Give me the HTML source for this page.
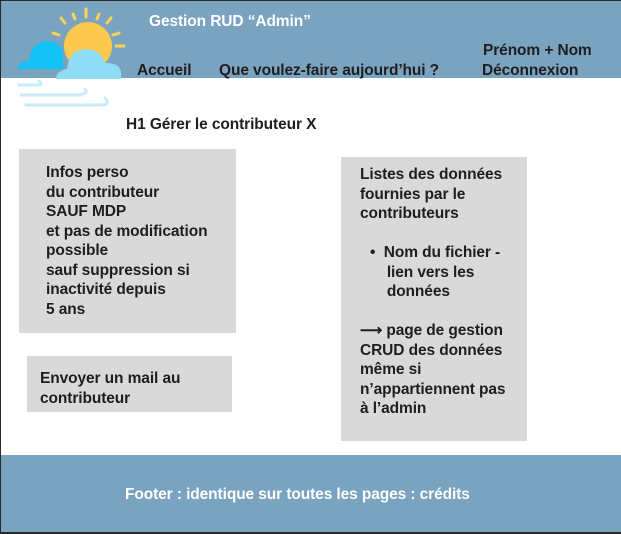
<!DOCTYPE html>
<html><head><style>
body{margin:0;width:621px;height:534px;overflow:hidden;background:#2a2a2a;font-family:"Liberation Sans",sans-serif;}
#f{position:absolute;left:1px;top:1px;width:620px;height:531px;background:#fff;}
.h{position:absolute;left:0;top:0;width:620px;height:77px;background:#7aa3c0;}
.ft{position:absolute;left:0;top:454px;width:620px;height:77px;background:#7aa3c0;}
.t{position:absolute;font-size:15.5px;font-weight:bold;color:#1e1e1e;line-height:19.5px;white-space:nowrap;letter-spacing:-0.1px;}
.w{color:#fff;}
.b{position:absolute;background:#d9d9d9;}
</style></head><body><div id="f">
<div class="h"></div>
<div class="ft"></div>
<svg style="position:absolute;left:0;top:0" width="130" height="110">
<g stroke="#fcd15a" stroke-width="3" stroke-linecap="round">
<line x1="85" y1="8" x2="85" y2="16"/><line x1="60" y1="17" x2="64" y2="22"/><line x1="110" y1="17" x2="106" y2="22"/>
<line x1="52" y1="32" x2="58" y2="34"/><line x1="118" y1="32" x2="112" y2="34"/><line x1="48" y1="45" x2="56" y2="45"/><line x1="115" y1="45" x2="123" y2="45"/>
<line x1="72" y1="13" x2="74" y2="18"/><line x1="98" y1="13" x2="96" y2="18"/></g>
<circle cx="87" cy="45" r="24" fill="#fcc94f"/>
<path d="M17 68 Q17 60 28 60 Q30 40 48 40 Q60 42 62 52 L62 68 Z" fill="#13c2f5"/>
<path d="M55 78 Q55 70 66 68 Q68 48 86 48 Q100 49 104 62 Q120 62 120 72 L120 78 Z" fill="#8fdcf5"/>
<g stroke="#c9ecf9" stroke-width="3" fill="none" stroke-linecap="round">
<path d="M18 84 H38 Q42 84 38 80"/><path d="M20 94 H70 Q90 94 84 88"/><path d="M25 104 H100 Q110 104 104 97"/><path d="M60 94 H80"/></g>
</svg>
<div class="t w" style="left:148px;top:11px;">Gestion RUD “Admin”</div>
<div class="t" style="left:136px;top:60px;">Accueil</div>
<div class="t" style="left:218px;top:60px;">Que voulez-faire aujourd’hui ?</div>
<div class="t" style="left:482px;top:40px;">Prénom + Nom</div>
<div class="t" style="left:481px;top:60px;">Déconnexion</div>
<div class="t" style="left:125px;top:114px;">H1 Gérer le contributeur X</div>
<div class="b" style="left:18px;top:148px;width:217px;height:184px;"></div>
<div class="t" style="left:45px;top:162px;">Infos perso<br>du contributeur<br>SAUF MDP<br>et pas de modification<br>possible<br>sauf suppression si<br>inactivité depuis<br>5 ans</div>
<div class="b" style="left:26px;top:355px;width:205px;height:56px;"></div>
<div class="t" style="left:39px;top:368px;">Envoyer un mail au<br>contributeur</div>
<div class="b" style="left:340px;top:156px;width:186px;height:284px;"></div>
<div class="t" style="left:359px;top:164px;">Listes des données<br>fournies par le<br>contributeurs</div>
<div class="t" style="left:369px;top:242px;">•&nbsp;&nbsp;Nom du fichier -<br>&nbsp;&nbsp;&nbsp;&nbsp;lien vers les<br>&nbsp;&nbsp;&nbsp;&nbsp;données</div>
<div class="t" style="left:359px;top:320px;">⟶ page de gestion<br>CRUD des données<br>même si<br>n’appartiennent pas<br>à l’admin</div>
<div class="t w" style="left:124px;top:484px;">Footer : identique sur toutes les pages : crédits</div>
</div></body></html>
